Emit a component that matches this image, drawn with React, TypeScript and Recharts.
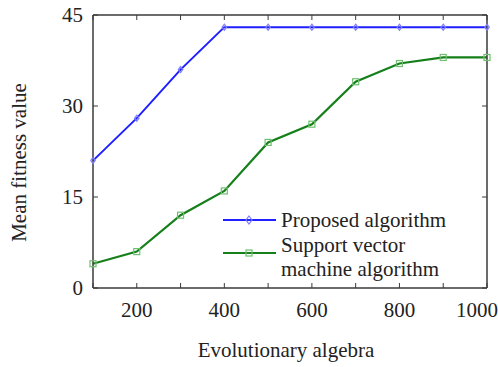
import { LineChart, Line, XAxis, YAxis } from 'recharts'

const generations = [100, 200, 300, 400, 500, 600, 700, 800, 900, 1000]
const proposed = [21, 28, 36, 43, 43, 43, 43, 43, 43, 43]
const svm = [4, 6, 12, 16, 24, 27, 34, 37, 38, 38]
const xTicks = [100, 200, 300, 400, 500, 600, 700, 800, 900, 1000]
const yTicks = [0, 15, 30, 45]

const BLUE = '#1f1fff'
const BLUE_MARK = '#7d7dff'
const GREEN = '#15801a'
const GREEN_MARK = '#6fbf6f'
const AXIS = '#3a3a3a'
const FONT = '"Liberation Serif", "Times New Roman", serif'
const FS = 21
const TICK_LEN = 5
const txt = { fontFamily: FONT }

const data = generations.map((g, i) => ({ g, proposed: proposed[i], svm: svm[i] }))

// rombo abierto
const Diamond = ({ cx, cy, r = 5 }: any) =>
  cx == null ? null : (
    <path d={`M${cx},${cy - r}L${cx + r * 0.75},${cy}L${cx},${cy + r}L${cx - r * 0.75},${cy}Z`} fill="none" stroke={BLUE_MARK} strokeWidth={1.2} />
  )

const Square = ({ cx, cy, r = 4 }: any) =>
  cx == null ? null : <rect x={cx - r} y={cy - r} width={r * 2} height={r * 2} fill="none" stroke={GREEN_MARK} strokeWidth={1.2} />

// ticks hacia dentro; etiqueta sólo en múltiplos de 200 (la última, desplazada para que quepa)
const BottomTick = ({ x, y, payload, index, visibleTicksCount }: any) => {
  const axisY = y - 14
  const last = index === visibleTicksCount - 1
  return (
    <g>
      <line x1={x} x2={x} y1={axisY} y2={axisY - TICK_LEN} stroke={AXIS} strokeWidth={1} />
      {payload.value % 200 === 0 && (
        <text x={last ? x - 10 : x} y={y} dy="0.71em" textAnchor="middle" fontSize={FS} fill="#222" fontFamily={FONT} style={txt}>
          {payload.value}
        </text>
      )}
    </g>
  )
}

const TopTick = ({ x, y }: any) => <line x1={x} x2={x} y1={y} y2={y + TICK_LEN} stroke={AXIS} strokeWidth={1} />

const LeftTick = ({ x, y, payload }: any) => {
  const axisX = x + 10
  return (
    <g>
      <line x1={axisX} x2={axisX + TICK_LEN} y1={y} y2={y} stroke={AXIS} strokeWidth={1} />
      <text x={x} y={y} dy="0.35em" textAnchor="end" fontSize={FS} fill="#222" fontFamily={FONT} style={txt}>
        {payload.value}
      </text>
    </g>
  )
}

const RightTick = ({ x, y }: any) => <line x1={x} x2={x - TICK_LEN} y1={y} y2={y} stroke={AXIS} strokeWidth={1} />

const YTitle = ({ viewBox }: any) => (
  <text
    transform={`translate(${viewBox.x + 19}, ${viewBox.y + viewBox.height / 2 + 11}) rotate(-90)`}
    textAnchor="middle"
    dominantBaseline="central"
    fontSize={FS}
    fill="#222"
    fontFamily={FONT}
    style={txt}
  >
    Mean fitness value
  </text>
)

const XTitle = ({ viewBox }: any) => (
  <text x={viewBox.x + viewBox.width / 2 - 4} y={viewBox.y + viewBox.height - 10} textAnchor="middle" fontSize={FS} fill="#222" fontFamily={FONT} style={txt}>
    Evolutionary algebra
  </text>
)

const LegendBox = () => (
  <svg width={240} height={80} style={{ position: 'absolute', left: 223, top: 208, overflow: 'visible' }}>
    <line x1={0} x2={53} y1={12} y2={12} stroke={BLUE} strokeWidth={2} />
    <Diamond cx={26} cy={12} r={4} />
    <text x={58} y={12} dy="0.35em" fontSize={FS} fill="#222" fontFamily={FONT} style={txt}>Proposed algorithm</text>
    <line x1={0} x2={53} y1={45} y2={45} stroke={GREEN} strokeWidth={2} />
    <Square cx={26} cy={45} r={3} />
    <text x={58} y={37} dy="0.35em" fontSize={FS} fill="#222" fontFamily={FONT} style={txt}>Support vector</text>
    <text x={58} y={61} dy="0.35em" fontSize={FS} fill="#222" fontFamily={FONT} style={txt}>machine algorithm</text>
  </svg>
)

export default function App() {
  return (
    <div style={{ position: 'relative', width: 498, height: 367, background: '#fff', fontFamily: FONT }}>
      <style>{'body{margin:0}'}</style>
      <LineChart width={498} height={367} data={data} margin={{ top: 14, right: 10, bottom: 0, left: 0 }}>
        <XAxis
          xAxisId="b"
          dataKey="g"
          type="number"
          domain={[100, 1000]}
          ticks={xTicks}
          interval={0}
          height={79}
          tickSize={0}
          tickMargin={14}
          tickLine={false}
          stroke={AXIS}
          strokeWidth={1.5}
          tick={<BottomTick />}
          label={<XTitle />}
        />
        <XAxis
          xAxisId="t"
          dataKey="g"
          type="number"
          orientation="top"
          domain={[100, 1000]}
          ticks={xTicks}
          interval={0}
          height={1}
          tickSize={0}
          tickMargin={0}
          tickLine={false}
          stroke={AXIS}
          strokeWidth={1.5}
          tick={<TopTick />}
        />
        <YAxis
          yAxisId="l"
          domain={[0, 45]}
          ticks={yTicks}
          interval={0}
          width={93}
          tickSize={0}
          tickMargin={10}
          tickLine={false}
          stroke={AXIS}
          strokeWidth={1.5}
          tick={<LeftTick />}
          label={<YTitle />}
        />
        <YAxis
          yAxisId="r"
          orientation="right"
          domain={[0, 45]}
          ticks={yTicks}
          interval={0}
          width={1}
          tickSize={0}
          tickMargin={0}
          tickLine={false}
          stroke={AXIS}
          strokeWidth={1.5}
          tick={<RightTick />}
        />
        {/* serie invisible para que se dibujen los ejes superior y derecho */}
        <Line xAxisId="t" yAxisId="r" dataKey="proposed" stroke="none" dot={false} activeDot={false} legendType="none" isAnimationActive={false} />
        <Line xAxisId="b" yAxisId="l" dataKey="proposed" stroke={BLUE} strokeWidth={2} dot={<Diamond />} isAnimationActive={false} />
        <Line xAxisId="b" yAxisId="l" dataKey="svm" stroke={GREEN} strokeWidth={2.2} dot={<Square />} isAnimationActive={false} />
      </LineChart>
      <LegendBox />
    </div>
  )
}
